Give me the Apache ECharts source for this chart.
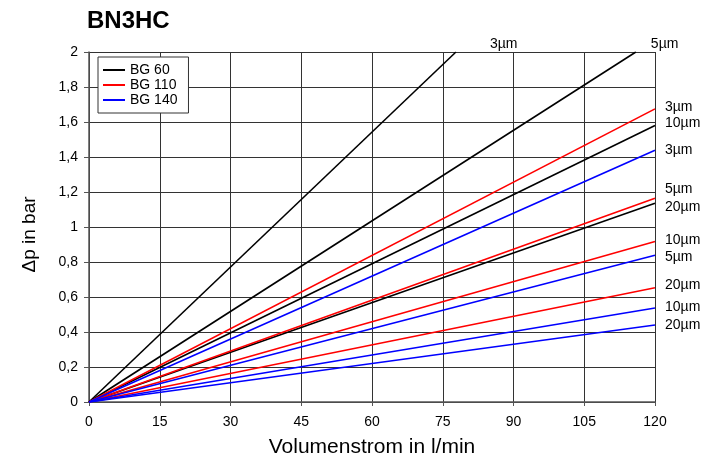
<!DOCTYPE html>
<html>
<head>
<meta charset="utf-8">
<title>BN3HC</title>
<script src="https://cdn.jsdelivr.net/npm/echarts@6/dist/echarts.min.js"></script>
<style>
  html, body { margin: 0; padding: 0; background: #fff; }
  #chart { width: 707px; height: 463px; }
</style>
</head>
<body>
<div id="chart"></div>
<script>
// Flow range (l/min) and pressure-drop value at 120 l/min per element type
const flowRange = [0, 120];
const meshSizes = ['3µm', '5µm', '10µm', '20µm'];
const bg60End  = [3.085, 2.07, 1.58, 1.136];
const bg110End = [1.675, 1.164, 0.917, 0.653];
const bg140End = [1.438, 0.839, 0.537, 0.44];
const xTicks = [0, 15, 30, 45, 60, 75, 90, 105, 120];
const yTicks = [0, 0.2, 0.4, 0.6, 0.8, 1, 1.2, 1.4, 1.6, 1.8, 2];

// Label nudges [dx, dy] in px for each curve's end label
const bg60LabelShift  = [[34, -8], [15, -8], [10, -2], [10, 4]];
const bg110LabelShift = [[10, -2], [10, -9], [10, -1], [10, -3]];
const bg140LabelShift = [[10, 0], [10, 2], [10, -1], [10, 0]];

const groups = [
  { name: 'BG 60',  color: '#000000', ends: bg60End,  shift: bg60LabelShift },
  { name: 'BG 110', color: '#ff0000', ends: bg110End, shift: bg110LabelShift },
  { name: 'BG 140', color: '#0000ff', ends: bg140End, shift: bg140LabelShift }
];

const yMax = yTicks[yTicks.length - 1];
const xMax = flowRange[1];
const FONT = 'Liberation Sans, Arial, sans-serif';

// Straight lines through the origin; cut where they leave the top of the plot
function curve(endVal) {
  if (endVal <= yMax) return [[flowRange[0], 0], [xMax, endVal]];
  return [[flowRange[0], 0], [xMax * yMax / endVal, yMax]];
}

const series = [];
groups.forEach(g => {
  g.ends.forEach((v, i) => {
    series.push({
      name: g.name,
      type: 'line',
      symbol: 'none',
      silent: true,
      data: curve(v),
      lineStyle: { color: g.color, width: 1.6 },
      itemStyle: { color: g.color },
      endLabel: {
        show: true,
        formatter: meshSizes[i],
        distance: 0,
        offset: g.shift[i],
        align: 'left',
        verticalAlign: 'middle',
        color: '#000',
        fontSize: 14,
        fontFamily: FONT
      }
    });
  });
});

const chart = echarts.init(document.getElementById('chart'), null, { renderer: 'canvas' });
chart.setOption({
  animation: false,
  backgroundColor: '#fff',
  textStyle: { fontFamily: FONT, color: '#000' },
  title: {
    text: 'BN3HC',
    left: 82,
    top: 4,
    textStyle: { fontSize: 24, fontWeight: 'bold', color: '#000', fontFamily: FONT }
  },
  legend: {
    data: groups.map(g => g.name),
    orient: 'vertical',
    left: 98,
    top: 57,
    padding: [6, 11, 6, 5],
    itemGap: 1,
    itemWidth: 22,
    itemHeight: 2,
    icon: 'rect',
    selectedMode: false,
    backgroundColor: '#fff',
    borderColor: '#333',
    borderWidth: 1,
    textStyle: { fontSize: 14, color: '#000', lineHeight: 14 }
  },
  grid: { left: 89, right: 52, top: 52, bottom: 60, containLabel: false },
  xAxis: {
    type: 'value',
    min: xTicks[0],
    max: xTicks[xTicks.length - 1],
    interval: xTicks[1] - xTicks[0],
    name: 'Volumenstrom in l/min',
    nameLocation: 'middle',
    nameGap: 35,
    nameTextStyle: { fontSize: 21, color: '#000' },
    axisLine: { show: true, lineStyle: { color: '#555', width: 1.5 } },
    axisTick: { show: true, inside: false, length: 4, lineStyle: { color: '#555' } },
    axisLabel: { fontSize: 14, color: '#000', margin: 13 },
    splitLine: { show: true, lineStyle: { color: '#333', width: 1 } }
  },
  yAxis: {
    type: 'value',
    min: yTicks[0],
    max: yMax,
    interval: 0.2,
    name: 'Δp in bar',
    nameLocation: 'middle',
    nameGap: 50,
    nameRotate: 90,
    nameTextStyle: { fontSize: 19, color: '#000', padding: [0, 15, 0, 0] },
    axisLine: { show: true, lineStyle: { color: '#555', width: 1.5 } },
    axisTick: { show: true, inside: false, length: 5, lineStyle: { color: '#555' } },
    axisLabel: {
      fontSize: 14,
      color: '#000',
      margin: 11,
      formatter: v => String(Math.round(v * 10) / 10).replace('.', ',')
    },
    splitLine: { show: true, lineStyle: { color: '#333', width: 1 } }
  },
  series: series
});
</script>
</body>
</html>
